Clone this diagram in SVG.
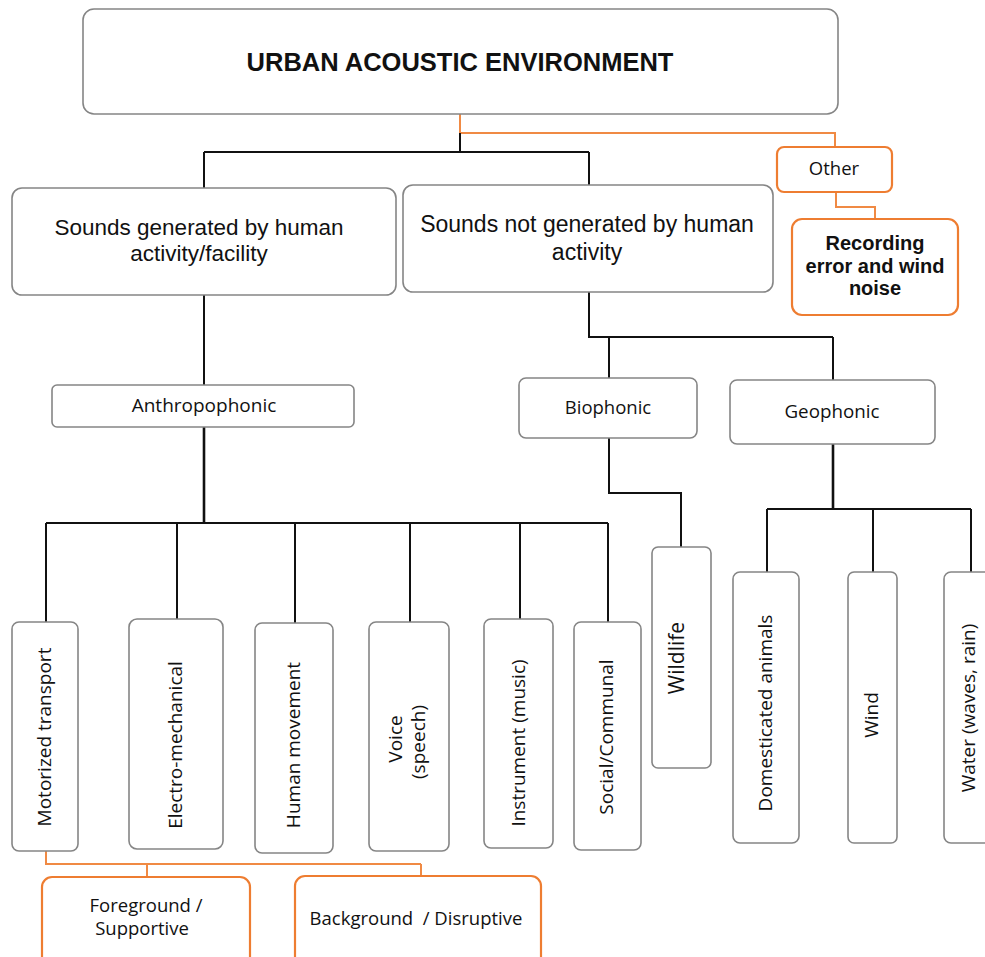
<svg xmlns="http://www.w3.org/2000/svg" width="985" height="957" viewBox="0 0 985 957">
<style>
.box{fill:#fff;stroke:#858585;stroke-width:1.6}
.obox{fill:#fff;stroke:#ee7d31;stroke-width:2.2}
.ln{fill:none;stroke:#111;stroke-width:2}
.lnb{fill:none;stroke:#111;stroke-width:2.6}
.oln{fill:none;stroke:#f08a44;stroke-width:2}
.t{font-family:"Open Sans","Liberation Sans",sans-serif;fill:#111;text-anchor:middle}
.big{font-family:"Liberation Sans",Arial,sans-serif;fill:#111;text-anchor:middle}
.ttl{font-family:"Liberation Sans",Arial,sans-serif;font-weight:bold;fill:#111;text-anchor:middle;font-size:25.5px}
.rec{font-family:"Liberation Sans",Arial,sans-serif;font-weight:bold;fill:#111;text-anchor:middle;font-size:20px}
.v{font-size:19px}
</style>
<rect width="985" height="957" fill="#fff"/>
<g id="connectors">
<path class="oln" d="M460 114 V133 H835 V147"/>
<path class="oln" d="M836 192 V207 H875 V219"/>
<path class="ln" d="M460 133 V152 M204 152 H589 M204 152 V188 M589 152 V185"/>
<path class="ln" d="M204 295 V385"/>
<path class="lnb" d="M204 427 V523"/>
<path class="ln" d="M46 523 H608 M46 523 V622 M177 523 V619 M295 523 V623 M410 523 V622 M520 523 V619 M608 523 V622"/>
<path class="ln" d="M589 292 V337 H833 M609 337 V378 M833 337 V380"/>
<path class="ln" d="M609 438 V493 H681 V547"/>
<path class="lnb" d="M833 444 V509"/>
<path class="ln" d="M767 509 H971 M767 509 V572 M873 509 V572 M971 509 V572"/>
<path class="oln" d="M46 851 V864 H421 M147 864 V877 M421 864 V876"/>
</g>
<g id="n-root"><rect class="box" x="83" y="9" width="755" height="105" rx="11"/><text class="ttl" x="460" y="71">URBAN ACOUSTIC ENVIRONMENT</text></g>
<g id="n-human"><rect class="box" x="12" y="188" width="384" height="107" rx="10"/><text class="big" font-size="22.5" x="199" y="235">Sounds generated by human</text><text class="big" font-size="22.5" x="199" y="261">activity/facility</text></g>
<g id="n-nonhuman"><rect class="box" x="403" y="185" width="370" height="107" rx="10"/><text class="big" font-size="23" x="587" y="232">Sounds not generated by human</text><text class="big" font-size="23" x="587" y="260">activity</text></g>
<g id="n-other"><rect class="obox" x="777" y="147" width="115" height="45" rx="7"/><text class="t" font-size="18.5" x="834" y="175">Other</text></g>
<g id="n-recording"><rect class="obox" x="792" y="219" width="166" height="96" rx="10"/><text class="rec" x="875" y="250">Recording</text><text class="rec" x="875" y="273">error and wind</text><text class="rec" x="875" y="295">noise</text></g>
<g id="n-anthro"><rect class="box" x="52" y="385" width="302" height="42" rx="5"/><text class="t" font-size="19" x="204" y="412">Anthropophonic</text></g>
<g id="n-bio"><rect class="box" x="519" y="378" width="178" height="60" rx="7"/><text class="t" font-size="18.5" x="608" y="414">Biophonic</text></g>
<g id="n-geo"><rect class="box" x="730" y="380" width="205" height="64" rx="7"/><text class="t" font-size="18.8" x="832" y="418">Geophonic</text></g>
<g id="n-motor"><rect class="box" x="12" y="622" width="66" height="229" rx="7"/><text class="t v" transform="translate(46,737) rotate(-90)" y="5">Motorized transport</text></g>
<g id="n-electro"><rect class="box" x="129" y="619" width="94" height="230" rx="8"/><text class="t v" transform="translate(177,745) rotate(-90)" y="5">Electro-mechanical</text></g>
<g id="n-move"><rect class="box" x="255" y="623" width="78" height="230" rx="7"/><text class="t v" transform="translate(295,745) rotate(-90)" y="5">Human movement</text></g>
<g id="n-voice"><rect class="box" x="369" y="622" width="80" height="229" rx="7"/><text class="t v" transform="translate(397,739) rotate(-90)" y="5">Voice</text><text class="t v" transform="translate(420,742) rotate(-90)" y="5">(speech)</text></g>
<g id="n-instr"><rect class="box" x="484" y="619" width="69" height="229" rx="7"/><text class="t v" transform="translate(520,743) rotate(-90)" y="5">Instrument (music)</text></g>
<g id="n-social"><rect class="box" x="574" y="622" width="67" height="228" rx="7"/><text class="t v" transform="translate(608,737) rotate(-90)" y="5">Social/Communal</text></g>
<g id="n-wildlife"><rect class="box" x="652" y="547" width="59" height="221" rx="6"/><text class="t" font-size="21" transform="translate(678,658) rotate(-90)" y="6">Wildlife</text></g>
<g id="n-domestic"><rect class="box" x="733" y="572" width="66" height="271" rx="7"/><text class="t v" transform="translate(767,713) rotate(-90)" y="5">Domesticated animals</text></g>
<g id="n-wind"><rect class="box" x="848" y="572" width="49" height="271" rx="6"/><text class="t v" transform="translate(873,715) rotate(-90)" y="5">Wind</text></g>
<g id="n-water"><rect class="box" x="944" y="572" width="60" height="271" rx="7"/><text class="t v" transform="translate(970,708) rotate(-90)" y="5">Water (waves, rain)</text></g>
<g id="n-fore"><rect class="obox" x="42" y="877" width="208" height="100" rx="10"/><text class="t" font-size="18.5" x="146" y="912">Foreground /</text><text class="t" font-size="18.5" x="142" y="935">Supportive</text></g>
<g id="n-back"><rect class="obox" x="295" y="876" width="246" height="100" rx="10"/><text class="t" font-size="18.5" x="416" y="925" xml:space="preserve">Background  / Disruptive</text></g>
</svg>
